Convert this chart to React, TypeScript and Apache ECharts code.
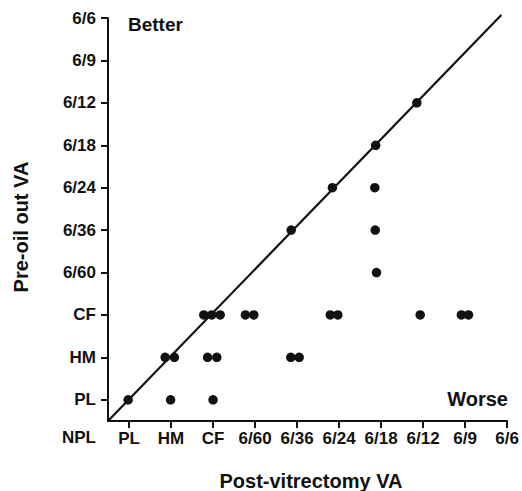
import React, { useEffect, useRef } from "react";
import * as echarts from "echarts";

const categories = ["NPL", "PL", "HM", "CF", "6/60", "6/36", "6/24", "6/18", "6/12", "6/9", "6/6"];
const tickValues = [1, 2, 3, 4, 5, 6, 7, 8, 9, 10];

// [post-vitrectomy VA index, pre-oil-out VA index] (jittered as in the figure)
const rowPL: [number, number][] = [[0.98, 1], [1.99, 1], [3.0, 1]];
const rowHM: [number, number][] = [[1.86, 2], [2.08, 2], [2.87, 2], [3.09, 2], [4.85, 2], [5.05, 2]];
const rowCF: [number, number][] = [
  [2.78, 3], [2.97, 3], [3.17, 3], [3.77, 3], [3.97, 3],
  [5.79, 3], [5.97, 3], [7.93, 3], [8.91, 3], [9.08, 3],
];
const row660: [number, number][] = [[6.89, 4]];
const row636: [number, number][] = [[4.86, 5], [6.86, 5]];
const row624: [number, number][] = [[5.84, 6], [6.85, 6]];
const row618: [number, number][] = [[6.87, 7]];
const row612: [number, number][] = [[7.85, 8]];

const diagonal: [number, number][] = [[0.5, 0.5], [9.86, 10.07]];

const AXIS_MIN = 0.5;
const AXIS_MAX = 10;
const FONT = "'Liberation Sans', Arial, Helvetica, sans-serif";
const INK = "#111";

export default function App() {
  const ref = useRef<HTMLDivElement>(null);
  useEffect(() => {
    if (!ref.current) return;
    const chart = echarts.init(ref.current, undefined, { renderer: "svg" });
    const points = [...rowPL, ...rowHM, ...rowCF, ...row660, ...row636, ...row624, ...row618, ...row612];
    const labelStyle = {
      color: INK,
      fontSize: 17,
      fontFamily: FONT,
      fontWeight: "bold" as const,
      formatter: (v: number) => categories[Math.round(v)] ?? "",
    };
    const tickStyle = { show: true, customValues: tickValues, length: 7, lineStyle: { color: INK, width: 2 } };
    chart.setOption({
      animation: false,
      backgroundColor: "#fff",
      grid: { left: 108, right: 14, top: 18, bottom: 70, containLabel: false },
      xAxis: {
        type: "value",
        min: AXIS_MIN,
        max: AXIS_MAX,
        splitLine: { show: false },
        axisLine: { show: true, lineStyle: { color: INK, width: 2 } },
        axisTick: tickStyle,
        axisLabel: { ...labelStyle, customValues: tickValues, margin: 9, showMaxLabel: true, showMinLabel: true },
      },
      yAxis: {
        type: "value",
        min: AXIS_MIN,
        max: AXIS_MAX,
        splitLine: { show: false },
        axisLine: { show: true, lineStyle: { color: INK, width: 2 } },
        axisTick: tickStyle,
        axisLabel: { ...labelStyle, customValues: tickValues, margin: 12, showMaxLabel: true, showMinLabel: true },
      },
      series: [
        {
          type: "line",
          data: diagonal,
          symbol: "none",
          clip: false,
          lineStyle: { color: INK, width: 2.2 },
          z: 2,
        },
        {
          type: "scatter",
          data: points,
          symbol: "circle",
          symbolSize: 9.5,
          itemStyle: { color: INK, opacity: 1 },
          z: 3,
        },
      ],
      graphic: [
        {
          type: "text",
          left: 128,
          top: 15,
          style: { text: "Better", fontSize: 19, fontFamily: FONT, fontWeight: "bold", fill: INK },
        },
        {
          type: "text",
          x: 508,
          y: 399,
          style: { text: "Worse", fontSize: 20, fontFamily: FONT, fontWeight: "bold", fill: INK, align: "right", verticalAlign: "middle" },
        },
        {
          type: "text",
          x: 96,
          y: 437,
          style: { text: categories[0], fontSize: 17, fontFamily: FONT, fontWeight: "bold", fill: INK, align: "right", verticalAlign: "middle" },
        },
        {
          type: "text",
          x: 311,
          y: 481,
          style: { text: "Post-vitrectomy VA", fontSize: 20, fontFamily: FONT, fontWeight: "bold", fill: INK, align: "center", verticalAlign: "middle" },
        },
        {
          type: "text",
          x: 21,
          y: 227,
          rotation: Math.PI / 2,
          style: { text: "Pre-oil out VA", fontSize: 20, fontFamily: FONT, fontWeight: "bold", fill: INK, align: "center", verticalAlign: "middle" },
        },
      ],
    });
    return () => chart.dispose();
  }, []);
  return <div ref={ref} style={{ position: "fixed", left: 0, top: 0, width: 522, height: 491 }} />;
}
